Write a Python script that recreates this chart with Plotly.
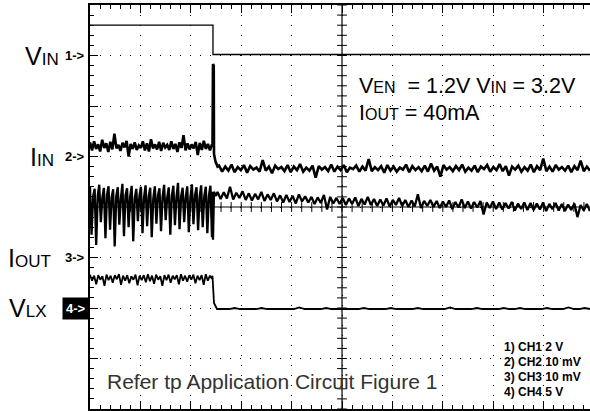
import numpy as np
import plotly.graph_objects as go

# scope screen in divisions: 10 across, 8 high (centre = 5, 0)
# falling edge of the enable at t = 2.44 div

# CH1 - VIN (step)
ch1_t = [0, 2.44, 2.44, 9.92]
ch1_v = [3.60, 3.60, 3.02, 3.02]

# CH2 - IIN before edge
ch2_pre = [1.28, 1.12, 1.30, 1.15, 1.24, 1.10, 1.33, 1.17, 1.26, 1.09,
           1.29, 1.14, 1.45, 1.16, 1.23, 1.11, 1.27, 1.18, 1.31, 1.00,
           1.25, 1.15, 1.28, 1.13, 1.22, 1.17, 1.30, 1.12, 1.26, 1.10,
           1.34, 1.16, 1.24, 1.14, 1.29, 1.11, 1.27, 1.18, 1.23, 1.13,
           1.30, 1.15, 1.25, 1.09, 1.28, 1.17, 1.42, 1.12, 1.26, 1.14,
           1.24, 1.16, 1.29, 1.03, 1.27, 1.13, 1.31, 1.15, 1.25, 1.12, 1.24]
ch2_edge_t = [2.43, 2.44, 2.455, 2.46, 2.49, 2.53]
ch2_edge_v = [1.20, 2.83, 2.80, 1.05, 0.90, 0.80]
ch2_post = [0.82, 0.70, 0.80, 0.72, 0.84, 0.69, 0.79, 0.73, 0.83, 0.68,
            0.81, 0.74, 0.78, 0.70, 0.93, 0.72, 0.80, 0.67, 0.82, 0.75,
            0.79, 0.71, 0.83, 0.69, 0.80, 0.73, 0.85, 0.70, 0.78, 0.72,
            0.82, 0.58, 0.81, 0.74, 0.79, 0.71, 0.84, 0.70, 0.80, 0.73,
            0.83, 0.69, 0.78, 0.75, 0.82, 0.70, 0.80, 0.72, 0.95, 0.71,
            0.79, 0.73, 0.81, 0.68, 0.83, 0.72, 0.80, 0.70, 0.78, 0.74,
            0.84, 0.69, 0.81, 0.73, 0.79, 0.71, 0.82, 0.70, 0.86, 0.72,
            0.80, 0.60, 0.83, 0.74, 0.79, 0.71, 0.81, 0.73, 0.84, 0.70,
            0.78, 0.72, 0.82, 0.69, 0.80, 0.75, 0.83, 0.70, 0.79, 0.73,
            0.85, 0.71, 0.81, 0.62, 0.80, 0.74, 0.82, 0.70, 0.79, 0.72,
            0.84, 0.69, 0.81, 0.73, 0.96, 0.71, 0.80, 0.70, 0.83, 0.74,
            0.79, 0.72, 0.82, 0.69, 0.81, 0.73, 0.92, 0.71, 0.80, 0.72]

# CH3 - IOUT (switching ripple before edge)
ch3_pre = [0.40, -0.55, 0.20, 0.36, -0.75, 0.22, 0.44, -0.30, 0.18, 0.38,
           -0.62, 0.24, 0.41, -0.45, 0.19, 0.35, -0.78, 0.21, 0.39, -0.35,
           0.17, 0.46, -0.58, 0.23, 0.37, -0.40, 0.20, 0.42, -0.68, 0.18,
           0.36, -0.28, 0.22, 0.40, -0.52, 0.19, 0.43, -0.38, 0.21, 0.38,
           -0.60, 0.17, 0.41, -0.33, 0.23, 0.37, -0.48, 0.20, 0.44, -0.26,
           0.18, 0.39, -0.55, 0.22, 0.42, -0.36, 0.19, 0.48, -0.44, 0.21,
           0.38, -0.30, 0.20, 0.41, -0.50, 0.18, 0.45, -0.34, 0.23, 0.39,
           -0.46, 0.20, 0.43, -0.40, 0.21, 0.40, -0.52, 0.22, 0.42, -0.60]
ch3_edge_t = [2.43, 2.44, 2.46, 2.50]
ch3_edge_v = [0.30, -0.65, 0.30, 0.22]
ch3_post = [0.30, 0.16, 0.29, 0.17, 0.40, 0.15, 0.28, 0.18, 0.31, 0.14,
            0.27, 0.13, 0.26, 0.15, 0.30, 0.12, 0.25, 0.14, 0.27, 0.11,
            0.23, 0.09, 0.24, 0.10, 0.22, 0.07, 0.25, 0.11, 0.21, 0.09,
            0.20, 0.06, 0.19, 0.08, 0.24, -0.05, 0.20, 0.07, 0.18, 0.06,
            0.18, 0.04, 0.17, 0.06, 0.19, 0.02, 0.16, 0.05, 0.20, 0.04,
            0.16, 0.02, 0.15, 0.03, 0.17, 0.01, 0.14, 0.04, 0.18, 0.02,
            0.14, 0.00, 0.13, 0.01, 0.25, -0.02, 0.12, 0.02, 0.14, 0.00,
            0.12, -0.02, 0.11, 0.00, 0.13, -0.04, 0.10, -0.01, 0.15, -0.02,
            0.11, -0.03, 0.10, -0.01, 0.12, -0.15, 0.09, -0.02, 0.11, -0.04,
            0.09, -0.05, 0.08, -0.03, 0.10, -0.07, 0.07, -0.04, 0.09, -0.06,
            0.08, -0.06, 0.07, -0.05, 0.09, -0.08, 0.06, -0.04, 0.08, -0.07,
            0.06, -0.08, 0.05, -0.06, 0.07, -0.20, 0.04, -0.07, 0.06, -0.08]

# CH4 - VLX
ch4_pre = [-1.34, -1.46, -1.36, -1.53, -1.35, -1.44, -1.37, -1.56, -1.34, -1.45,
           -1.36, -1.50, -1.35, -1.43, -1.33, -1.54, -1.36, -1.46, -1.35, -1.51,
           -1.37, -1.44, -1.34, -1.55, -1.36, -1.45, -1.35, -1.49, -1.33, -1.47,
           -1.36, -1.52, -1.34, -1.44, -1.37, -1.56, -1.35, -1.45, -1.34, -1.50,
           -1.36, -1.43, -1.35, -1.53, -1.33, -1.46, -1.36, -1.48, -1.35, -1.44,
           -1.34, -1.51, -1.36, -1.45, -1.35, -1.54, -1.33, -1.46, -1.36, -1.42]
ch4_edge_t = [2.43, 2.44, 2.46, 2.52]
ch4_edge_v = [-1.36, -1.60, -1.90, -2.02]
ch4_post = [-2.02, -2.02, -2.02, -2.00, -2.02, -2.02, -2.02, -2.02, -2.00, -2.02,
            -2.02, -2.02, -2.02, -2.02, -2.02, -1.99, -2.02, -2.02, -2.02, -2.02,
            -2.00, -2.02, -2.02, -2.02, -2.02, -2.02, -2.02, -2.00, -2.02, -2.02,
            -2.02, -2.02, -2.00, -2.02, -2.02, -2.02, -2.02, -2.00, -2.02, -2.02,
            -2.02, -2.02, -2.02, -1.99, -2.02, -2.02, -2.02, -2.02, -2.00, -2.02,
            -2.02, -2.02, -2.02, -2.00, -2.02, -2.02, -2.00, -2.02, -2.02, -2.02,
            -2.02, -2.00, -2.02, -2.02, -2.02, -1.99, -2.02, -2.02, -2.00, -2.02]

# channel markers: label, subscript, level (div), offset from the screen edge
ch_names = ['V', 'I', 'I', 'V']
ch_subs = ['IN', 'IN', 'OUT', 'LX']
ch_levels = [3, 1, -1, -2]
ch_shift = [-29, -34, -37, -42]

scale_lines = ['1) CH1 2 V', '2) CH2 10 mV', '3) CH3 10 mV', '4) CH4 5 V']

T_END = 9.92
FONT = 'Liberation Sans, Arial, sans-serif'


def trace(pre, t_edge, v_edge, post, pre_end=2.42):
    t_pre = np.linspace(0, pre_end, len(pre))
    t_post = np.linspace(t_edge[-1] + 0.03, T_END, len(post))
    return list(t_pre) + list(t_edge) + list(t_post), list(pre) + list(v_edge) + list(post)


fig = go.Figure()

fig.add_trace(go.Scatter(x=ch1_t, y=ch1_v, mode='lines',
                         line=dict(color='black', width=1.3)))

t2, v2 = trace(ch2_pre, ch2_edge_t, ch2_edge_v, ch2_post)
fig.add_trace(go.Scatter(x=t2, y=v2, mode='lines', line=dict(color='black', width=2.6)))

t3, v3 = trace(ch3_pre, ch3_edge_t, ch3_edge_v, ch3_post)
fig.add_trace(go.Scatter(x=t3, y=v3, mode='lines', line=dict(color='black', width=2.3)))

t4, v4 = trace(ch4_pre, ch4_edge_t, ch4_edge_v, ch4_post)
fig.add_trace(go.Scatter(x=t4, y=v4, mode='lines', line=dict(color='black', width=1.8)))

# centre graticule with its small ticks
fig.add_shape(type='line', x0=0, x1=T_END, y0=0, y1=0, line=dict(color='black', width=1.2))
fig.add_shape(type='line', x0=5, x1=5, y0=-4, y1=4, line=dict(color='black', width=1.2))
tx = np.arange(0, T_END, 0.2)
ty = np.arange(-4, 4.01, 0.2)
fig.add_trace(go.Scatter(x=tx, y=np.zeros_like(tx), mode='markers',
                         marker=dict(symbol='line-ns', size=7, line=dict(color='black', width=1))))
fig.add_trace(go.Scatter(x=np.full_like(ty, 5), y=ty, mode='markers',
                         marker=dict(symbol='line-ew', size=7, line=dict(color='black', width=1))))

# channel labels on the left
for name, sub, lvl, sh, n in zip(ch_names, ch_subs, ch_levels, ch_shift, range(1, 5)):
    fig.add_annotation(x=0, y=lvl, xref='x', yref='y', xanchor='right', yanchor='middle',
                       xshift=sh, showarrow=False,
                       text=f"{name}<span style='font-size:17px'>{sub}</span>",
                       font=dict(family=FONT, size=25, color='black'))
    if n == 4:
        fig.add_annotation(x=0, y=lvl, xref='x', yref='y', xanchor='right', yanchor='middle',
                           showarrow=False, text=f"<b>{n}-&gt;</b>", bgcolor='black', borderpad=3,
                           font=dict(family=FONT, size=13, color='white'))
    else:
        fig.add_annotation(x=0, y=lvl, xref='x', yref='y', xanchor='right', yanchor='middle',
                           xshift=-3, showarrow=False, text=f"<b>{n}-&gt;</b>",
                           font=dict(family=FONT, size=13, color='black'))

# test conditions
fig.add_annotation(x=5.30, y=2.40, xanchor='left', yanchor='middle', showarrow=False,
                   text="V<span style='font-size:16px'>EN</span>  = 1.2V V<span style='font-size:16px'>IN</span> = 3.2V",
                   font=dict(family=FONT, size=21.5, color='black'))
fig.add_annotation(x=5.30, y=1.86, xanchor='left', yanchor='middle', showarrow=False,
                   text="I<span style='font-size:16px'>OUT</span> = 40mA",
                   font=dict(family=FONT, size=21.5, color='black'))
fig.add_annotation(x=0.30, y=-3.45, xanchor='left', yanchor='middle', showarrow=False,
                   text='Refer tp Application Circuit Figure 1',
                   font=dict(family=FONT, size=21, color='#333333'))

for i, s in enumerate(scale_lines):
    fig.add_annotation(x=8.17, y=-2.77 - 0.30 * i, xanchor='left', yanchor='middle',
                       showarrow=False, text=f'<b>{s}</b>',
                       font=dict(family=FONT, size=12, color='black'))

fig.update_layout(
    width=590, height=411,
    margin=dict(l=90, r=0, t=5, b=2),
    plot_bgcolor='white', paper_bgcolor='white',
    showlegend=False,
)
fig.update_xaxes(range=[0, T_END], showticklabels=False, zeroline=False,
                 showline=True, linecolor='black', linewidth=1.5, mirror='ticks',
                 ticks='inside', tick0=0, dtick=1, ticklen=8, tickcolor='black',
                 showgrid=True, gridcolor='black', gridwidth=1.3, griddash='1.3px,8.7px',
                 minor=dict(ticks='inside', dtick=0.2, ticklen=4, tickcolor='black', showgrid=False))
fig.update_yaxes(range=[-4, 4], showticklabels=False, zeroline=False,
                 showline=True, linecolor='black', linewidth=1.5,
                 ticks='inside', tick0=0, dtick=1, ticklen=8, tickcolor='black',
                 showgrid=True, gridcolor='black', gridwidth=1.3, griddash='1.3px,8.7px',
                 minor=dict(ticks='inside', dtick=0.2, ticklen=4, tickcolor='black', showgrid=False))

fig.write_html("out.html", config={'displayModeBar': False},
               post_script="document.body.style.margin='0';")
